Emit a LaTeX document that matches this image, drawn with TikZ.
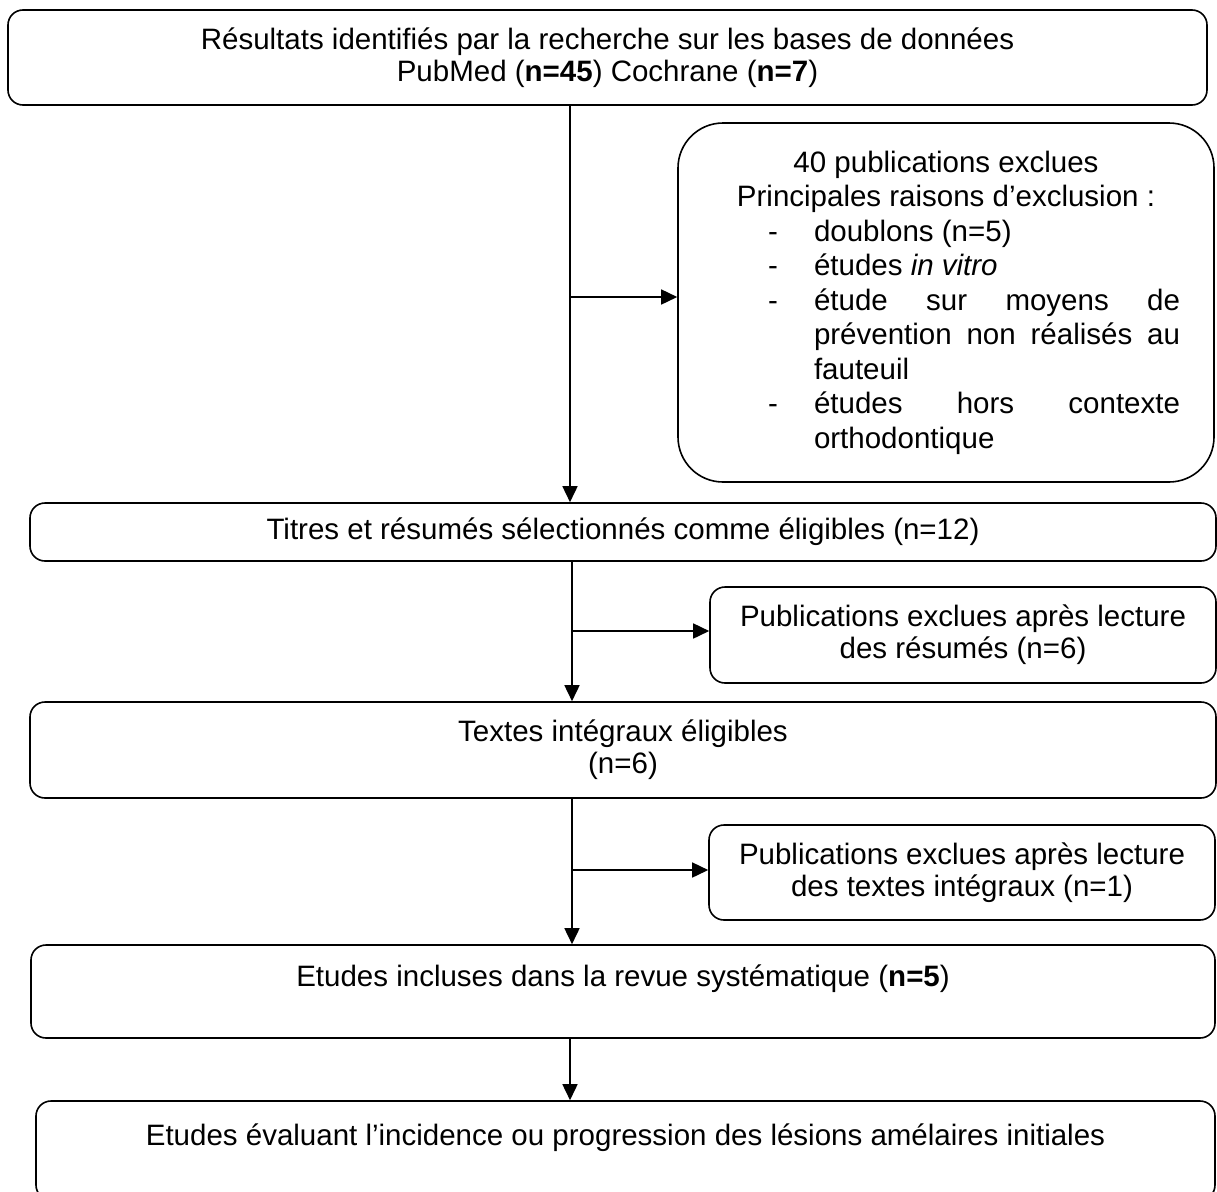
\documentclass[tikz,border=0pt]{standalone}
\usepackage{fontspec}
\setmainfont{Liberation Sans}
\usetikzlibrary{arrows.meta}
\newcommand\dashjust[1]{\hspace*{56pt}\makebox[46pt][l]{-}\makebox[366pt][s]{#1}}
\newcommand\dashleft[1]{\hspace*{56pt}\makebox[46pt][l]{-}\makebox[366pt][l]{#1}}
\newcommand\contjust[1]{\hspace*{102pt}\makebox[366pt][s]{#1}}
\newcommand\contleft[1]{\hspace*{102pt}\makebox[366pt][l]{#1}}
\begin{document}
\begin{tikzpicture}[x=1pt,y=-1pt,
  every node/.style={font=\fontsize{29.5}{32}\selectfont},
  box/.style={draw, line width=1.6pt, rounded corners=15pt, inner sep=0pt, align=center},
  arr/.style={line width=1.6pt, -{Triangle[length=16pt,width=15pt]}}]
\useasboundingbox (0,0) rectangle (1217,1191);
\clip (0,0) rectangle (1217,1191);

\node[box, minimum width=1199pt, minimum height=95pt] (top) at (607.5,57.5)
  {Résultats identifiés par la recherche sur les bases de données\\PubMed (\textbf{n=45}) Cochrane (\textbf{n=7})};

\node[box, rounded corners=45pt, minimum width=536pt, minimum height=359pt,
      font=\fontsize{29.5}{34.5}\selectfont] (excl1) at (946,302.5)
  {\parbox{468pt}{\centering
    40 publications exclues\\
    Principales raisons d’exclusion :\\
    \dashleft{doublons (n=5)}\\
    \dashleft{études \textit{in vitro}}\\
    \dashjust{étude sur moyens de}\\
    \contjust{prévention non réalisés au}\\
    \contleft{fauteuil}\\
    \dashjust{études hors contexte}\\
    \contleft{orthodontique}}};

\node[box, minimum width=1186pt, minimum height=58pt] (titres) at (623,532)
  {Titres et résumés sélectionnés comme éligibles (n=12)};

\node[box, minimum width=506pt, minimum height=96pt] (excl2) at (963,635)
  {Publications exclues après lecture\\des résumés (n=6)};

\node[box, minimum width=1186pt, minimum height=96pt] (textes) at (623,750)
  {Textes intégraux éligibles\\(n=6)};

\node[box, minimum width=506pt, minimum height=95pt] (excl3) at (962,872.5)
  {Publications exclues après lecture\\des textes intégraux (n=1)};

\node[box, minimum width=1184pt, minimum height=93pt] (incl) at (623,991.5)
  {Etudes incluses dans la revue systématique (\textbf{n=5})\\\mbox{}};

\node[box, minimum width=1179pt, minimum height=99pt] (eval) at (625.5,1150.5)
  {Etudes évaluant l’incidence ou progression des lésions amélaires initiales\\\mbox{}};

\coordinate (j1) at (570,297);
\coordinate (j2) at (572,631);
\coordinate (j3) at (572,870);
\coordinate (j4) at (570,1060);

\draw[arr] (j1 |- top.south) -- (j1 |- titres.north);
\draw[arr] (j1) -- (j1 -| excl1.west);
\draw[arr] (j2 |- titres.south) -- (j2 |- textes.north);
\draw[arr] (j2) -- (j2 -| excl2.west);
\draw[arr] (j3 |- textes.south) -- (j3 |- incl.north);
\draw[arr] (j3) -- (j3 -| excl3.west);
\draw[arr] (j4 |- incl.south) -- (j4 |- eval.north);
\end{tikzpicture}
\end{document}
